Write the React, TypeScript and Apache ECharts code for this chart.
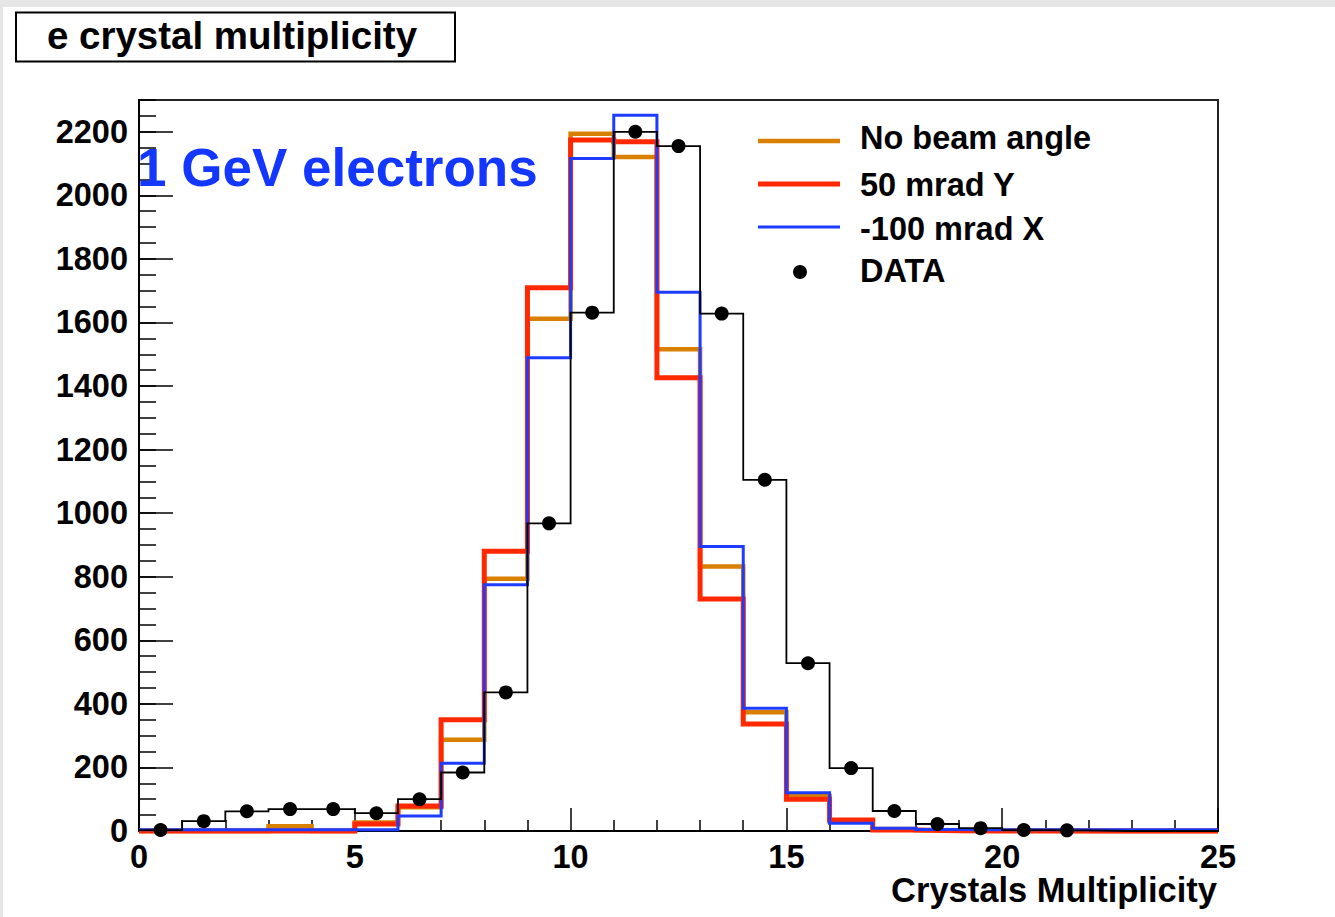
import React, { useEffect, useRef } from "react";
import * as echarts from "echarts";

// Histogram bins: 25 unit-wide bins covering 0..25 crystals
const binCount = 25;
const xTickLabels = [0, 5, 10, 15, 20, 25];
const yTickLabels = [0, 200, 400, 600, 800, 1000, 1200, 1400, 1600, 1800, 2000, 2200];
const xAxisTitle = "Crystals Multiplicity";

// Simulated multiplicity spectra (entries per bin)
const noBeamAngle = [0, 0, 0, 15, 0, 27, 75, 287, 794, 1612, 2194, 2121, 1516, 832, 374, 110, 30, 6, 2, 1, 1, 0, 0, 0, 0];
const mrad50Y = [0, 0, 0, 0, 0, 22, 79, 350, 880, 1709, 2174, 2169, 1426, 730, 337, 100, 35, 3, 1, 0, 0, 0, 0, 0, 0];
const mrad100X = [4, 4, 4, 4, 4, 4, 47, 213, 775, 1489, 2116, 2252, 1695, 895, 386, 120, 24, 9, 5, 4, 4, 4, 4, 4, 4];

// Measured multiplicity (entries per bin)
const dataCounts = [3, 31, 62, 69, 69, 56, 100, 184, 436, 968, 1631, 2200, 2155, 1628, 1105, 528, 198, 63, 22, 9, 3, 2, 0, 0, 0];
const dataMarkerBins = 22;

const FONT = "'Liberation Sans', Arial, Helvetica, sans-serif";
const ORANGE = "#d98000";
const RED = "#ff2800";
const BLUE = "#1e3cff";

// Turn per-bin contents into a step outline (x = bin low edge, last point closes the final bin)
function stepPoints(values: number[]): number[][] {
  const pts = values.map((v, i) => [i, v]);
  pts.push([binCount, values[binCount - 1]]);
  return pts;
}

function histSeries(name: string, values: number[], color: string, width: number, z: number) {
  return {
    name,
    type: "line",
    step: "end",
    data: stepPoints(values),
    symbol: "none",
    clip: false,
    z,
    lineStyle: { color, width, cap: "butt", join: "miter" },
    itemStyle: { color },
  };
}

export default function App() {
  const ref = useRef<HTMLDivElement>(null);

  useEffect(() => {
    if (!ref.current) return;
    const chart = echarts.init(ref.current, null, { renderer: "svg" });

    const legendRows = [
      { label: "No beam angle", color: ORANGE, width: 4.5, y: 141, ty: 138 },
      { label: "50 mrad Y", color: RED, width: 5, y: 184, ty: 185 },
      { label: "-100 mrad X", color: BLUE, width: 3, y: 227, ty: 229 },
    ];

    const boldText = (text: string, x: number, y: number, size: number, align: string, fill = "#000") => ({
      type: "text",
      z: 100,
      style: {
        text,
        x,
        y,
        align,
        verticalAlign: "middle",
        fontFamily: FONT,
        fontWeight: "bold",
        fontSize: size,
        fill,
      },
    });

    const graphic: any[] = [
      { type: "rect", shape: { x: 0, y: 0, width: 1335, height: 7 }, style: { fill: "#e6e6e6" }, silent: true },
      { type: "rect", shape: { x: 0, y: 0, width: 3, height: 917 }, style: { fill: "#e6e6e6" }, silent: true },
      {
        type: "rect",
        shape: { x: 16, y: 12.5, width: 439, height: 49 },
        style: { fill: "#fff", stroke: "#000", lineWidth: 2 },
      },
      boldText("e crystal multiplicity", 232, 35, 38.5, "center"),
      boldText("1 GeV electrons", 137, 167.5, 53, "left", "#1437ff"),
      boldText(xAxisTitle, 1217, 890, 34.5, "right"),
    ];

    legendRows.forEach((r) => {
      graphic.push({
        type: "line",
        z: 100,
        shape: { x1: 758, y1: r.y, x2: 840, y2: r.y },
        style: { stroke: r.color, lineWidth: r.width },
      });
      graphic.push(boldText(r.label, 860, r.ty, 32.5, "left"));
    });
    graphic.push({
      type: "circle",
      z: 100,
      shape: { cx: 800, cy: 272, r: 7 },
      style: { fill: "#000" },
    });
    graphic.push(boldText("DATA", 860, 271, 32.5, "left"));

    const labelStyle = {
      fontFamily: FONT,
      fontWeight: "bold" as const,
      fontSize: 32.5,
      color: "#000",
    };

    chart.setOption({
      animation: false,
      backgroundColor: "#fff",
      grid: {
        left: 139,
        right: 117,
        top: 100,
        bottom: 86,
        show: true,
        containLabel: false,
        outerBoundsMode: "none",
        borderColor: "#222",
        borderWidth: 2,
        backgroundColor: "#fff",
      },
      xAxis: {
        type: "value",
        min: xTickLabels[0],
        max: xTickLabels[xTickLabels.length - 1],
        interval: 5,
        axisLine: { lineStyle: { color: "#000", width: 2 } },
        axisTick: { inside: true, length: 23, lineStyle: { color: "#000", width: 1.5 } },
        minorTick: { show: true, splitNumber: 5, length: 11, lineStyle: { color: "#000", width: 1.5 } },
        splitLine: { show: false },
        axisLabel: { ...labelStyle, margin: 9, formatter: (v: number) => String(v) },
      },
      yAxis: [
        {
          type: "value",
          position: "left",
          min: yTickLabels[0],
          max: 2300,
          interval: 200,
          axisLine: { show: true, lineStyle: { color: "#000", width: 2 } },
          axisTick: { show: true, inside: true, length: 34, lineStyle: { color: "#000", width: 1.5 } },
          splitLine: { show: false },
          axisLabel: { ...labelStyle, margin: 11, showMaxLabel: false, formatter: (v: number) => String(v) },
        },
        {
          type: "value",
          position: "left",
          min: yTickLabels[0],
          max: 2300,
          interval: 50,
          axisLine: { show: false },
          axisTick: { show: true, inside: true, length: 17, lineStyle: { color: "#000", width: 1.5 } },
          splitLine: { show: false },
          axisLabel: { show: false },
        },
      ],
      series: [
        histSeries("No beam angle", noBeamAngle, ORANGE, 4.5, 2),
        histSeries("50 mrad Y", mrad50Y, RED, 5, 3),
        histSeries("-100 mrad X", mrad100X, BLUE, 3, 4),
        histSeries("DATA outline", dataCounts, "#000", 1.8, 5),
        {
          name: "DATA",
          type: "scatter",
          z: 6,
          symbol: "circle",
          symbolSize: 14,
          itemStyle: { color: "#000", opacity: 1 },
          data: dataCounts.slice(0, dataMarkerBins).map((v, i) => [i + 0.5, v]),
        },
      ],
      graphic,
    });

    return () => chart.dispose();
  }, []);

  return (
    <div
      ref={ref}
      style={{ position: "absolute", left: 0, top: 0, width: 1335, height: 917 }}
    />
  );
}
